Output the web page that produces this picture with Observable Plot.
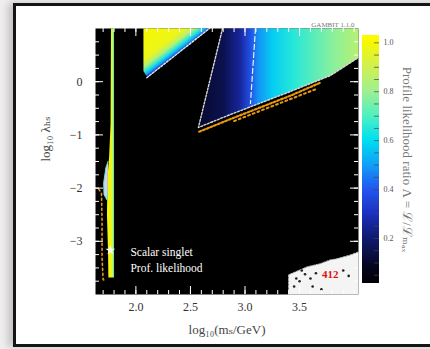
<!DOCTYPE html>
<html><head><meta charset="utf-8">
<script src="https://cdn.jsdelivr.net/npm/d3@7"></script>
<script src="https://cdn.jsdelivr.net/npm/@observablehq/plot@0.6"></script>
<style>
html,body{margin:0;padding:0;background:#efeded;}
#wrap{position:relative;width:430px;height:349px;overflow:hidden;}
#frame{position:absolute;left:13px;top:3px;width:440px;height:338px;border:3px solid #151515;background:#fff;box-shadow:-5px 0 7px rgba(0,0,0,0.18);}
#main,#cbar{position:absolute;top:0;}
#main{left:0;} #cbar{left:350px;}
</style></head>
<body>
<div id="wrap"><div id="frame"></div><div id="main"></div><div id="cbar"></div></div>
<script>
// ---- axes ----
const xDomain = [1.63, 4.04];
const yDomain = [-4, 1];
const xTicks = [2.0, 2.5, 3.0, 3.5];
const yTicks = [-3, -2, -1, 0];
const xLabel = "log₁₀(mₛ/GeV)";
const yLabel = "log₁₀ λₕₛ";
const cbarDomain = [0.016, 1.03];
const cbarTicks = [0.2, 0.4, 0.6, 0.8, 1.0];
const cbarLabel = "Profile likelihood ratio Λ = ℒ/ℒₘₐₓ";
const stamp = "GAMBIT 1.1.0";
const legendLines = ["Scalar singlet", "Prof. likelihood"];
const legendX = [1.95, 1.95];
const legendY = [-3.21, -3.51];
// ---- colormap (likelihood -> colour) ----
const cmapStops = [0, 0.08, 0.2, 0.3, 0.4, 0.5, 0.6, 0.7, 0.8, 0.9, 1.0];
const cmapColors = ["#000000","#05051e","#101a70","#1c30c0","#2258f0","#10a0f8","#00e0f0","#50f0c0","#a0f090","#d0f050","#f8f800"];
// ---- region A: upper-left wedge ----
const regionAx = [2.069, 2.069, 2.095, 2.120, 2.674];
const regionAy = [1.0, 0.20, 0.11, 0.10, 1.0];
const gradAfrom = [2.386, 0.535], gradAto = [2.165, 1.13];
const gradAoff = [0, 0.06, 0.14, 0.25, 0.4, 1];
const gradAval = [0.3, 0.5, 0.65, 0.85, 0.97, 1.0];
const contourAx = [2.100, 2.674];
const contourAy = [0.075, 1.0];
// ---- region B: large wedge ----
const regionBx = [2.794, 2.573, 2.867, 3.417, 3.784, 4.04, 4.04];
const regionBy = [1.0, -0.861, -0.617, -0.184, 0.117, 0.455, 1.0];
const gradBx = [2.57, 2.8, 2.95, 3.05, 3.12, 3.25, 3.45, 3.8, 4.04];
const gradBval = [0.1, 0.15, 0.25, 0.38, 0.48, 0.57, 0.65, 0.77, 0.85];
const dashBx = [3.096, 3.05];
const dashBy = [1.0, -0.41];
const orange1x = [2.58, 2.87, 3.42, 3.70];
const orange1y = [-0.94, -0.70, -0.26, -0.01];
const orange2x = [2.90, 3.20, 3.65];
const orange2y = [-0.74, -0.50, -0.14];
// ---- region C: narrow strip at low mass ----
const regionCx = [1.772, 1.800, 1.800, 1.748, 1.745, 1.735, 1.740, 1.755, 1.768, 1.772];
const regionCy = [1.0, 1.0, -3.68, -3.68, -3.2, -2.5, -1.8, -1.4, -0.8, 1.0];
const gradCx = [1.74, 1.785, 1.792, 1.80];
const gradCval = [1.0, 0.95, 0.8, 0.6];
const paleCx = [1.745, 1.725, 1.705, 1.708, 1.735, 1.742];
const paleCy = [-1.5, -1.62, -1.9, -2.12, -2.22, -2.0];
const orange3x = [1.66, 1.685, 1.69, 1.69, 1.70, 1.72];
const orange3y = [-2.02, -2.1, -2.6, -3.3, -3.72, -3.74];
const bestX = [1.766], bestY = [-3.17];
// ---- region D: bottom-right patch ----
const regionDx = [3.40, 3.40, 3.57, 3.69, 3.78, 3.84, 3.96, 4.04, 4.04];
const regionDy = [-4.0, -3.63, -3.48, -3.42, -3.35, -3.33, -3.26, -3.2, -4.0];
const spotsX = [3.45, 3.50, 3.55, 3.60, 3.65, 3.62, 3.70, 3.90, 3.95, 3.52, 3.47];
const spotsY = [-3.85, -3.75, -3.62, -3.70, -3.60, -3.85, -3.9, -3.55, -3.65, -3.55, -3.70];
const markLabel = "412";
const markX = [3.78], markY = [-3.62];

const serif = "'Liberation Serif','DejaVu Serif',serif";
const pts = (xs, ys) => xs.map((x, i) => [x, ys[i]]);
const PW = 263, PH = 266;

// ---- colour bar ----
const cbarCells = d3.range(cbarDomain[0], cbarDomain[1], 0.004).map(v => ({v, y1: v, y2: Math.min(v + 0.0045, cbarDomain[1])}));
const cbarMinor = d3.range(0.05, 1.03, 0.05);
const cbar = Plot.plot({
  width: 80, height: 349,
  marginLeft: 12, marginRight: 51, marginTop: 35, marginBottom: 66,
  x: {domain: [0, 1], axis: null},
  y: {domain: cbarDomain, axis: null},
  color: {type: "linear", domain: cmapStops, range: cmapColors},
  style: {background: "transparent", fontFamily: serif},
  marks: [
    Plot.rect(cbarCells, {x1: 0, x2: 1, y1: "y1", y2: "y2", fill: "v", shapeRendering: "crispEdges"}),
    Plot.tickY(cbarMinor, {y: d => d, stroke: "#444", strokeOpacity: 0.7, insetLeft: 12}),
    Plot.axisY({ticks: cbarTicks, anchor: "right", tickSize: 0, tickPadding: 4, fontSize: 8, fill: "#555", tickFormat: d => d.toFixed(1), label: null}),
    Plot.text([cbarLabel], {frameAnchor: "right", dx: 28, rotate: 90, textAnchor: "middle", fontSize: 13, fill: "#777", text: d => d})
  ]
});
document.getElementById("cbar").appendChild(cbar);
const sc = cbar.scale("color");

// ---- main panel ----
const xMinor = d3.range(1.7, 4.04, 0.1);
const yMinor = d3.range(-3.75, 1.0, 0.25);
const main = Plot.plot({
  width: 430, height: 349,
  marginLeft: 95, marginRight: 72, marginTop: 28, marginBottom: 55,
  x: {domain: xDomain},
  y: {domain: yDomain},
  style: {background: "transparent", fontFamily: serif},
  marks: [
    Plot.frame({fill: "black", stroke: null}),
    Plot.line(pts(regionAx, regionAy), {fill: "url(#gradA)", stroke: "none"}),
    Plot.line(pts(regionBx, regionBy), {fill: "url(#gradB)", stroke: "none"}),
    Plot.line(pts(regionCx, regionCy), {fill: "url(#gradC)", stroke: "none"}),
    Plot.line(pts(paleCx, paleCy), {fill: "#d4d4e4", stroke: "#70e0d8", strokeWidth: 1}),
    Plot.line(pts(regionDx, regionDy), {fill: "#f4f4f4", stroke: "#bbb", strokeWidth: 1, strokeDasharray: "2,1.5"}),
    Plot.dot(pts(spotsX, spotsY), {r: 1.3, fill: "#222", stroke: null}),
    Plot.text([markLabel], {x: markX, y: markY, fill: "#e01010", fontSize: 11, fontWeight: "bold"}),
    Plot.line(pts(contourAx, contourAy), {stroke: "#e8e8e8", strokeWidth: 1.4, strokeDasharray: "2,1.6"}),
    Plot.line(pts(regionBx.slice(0, 6), regionBy.slice(0, 6)), {stroke: "#d8d8d8", strokeWidth: 1.4, strokeDasharray: "2,1.6"}),
    Plot.line(pts(dashBx, dashBy), {stroke: "#f0f0f0", strokeWidth: 1.2, strokeDasharray: "5,3"}),
    Plot.line(pts(orange1x, orange1y), {stroke: "#e8980e", strokeWidth: 2.2, strokeDasharray: "2,2"}),
    Plot.line(pts(orange2x, orange2y), {stroke: "#e8980e", strokeWidth: 2, strokeDasharray: "2,3"}),
    Plot.line(pts(orange3x, orange3y), {stroke: "#e8980e", strokeWidth: 1.6, strokeDasharray: "2,3"}),
    Plot.dot(pts(bestX, bestY), {symbol: "star", r: 3, fill: "white", stroke: null}),
    // inward ticks
    Plot.tickX(xMinor, {x: d => d, stroke: "white", insetTop: PH - 4}),
    Plot.tickX(xTicks, {x: d => d, stroke: "white", insetTop: PH - 8}),
    Plot.tickX(xMinor, {x: d => d, stroke: "white", insetBottom: PH - 4}),
    Plot.tickX(xTicks, {x: d => d, stroke: "white", insetBottom: PH - 8}),
    Plot.tickY(yMinor, {y: d => d, stroke: "white", insetRight: PW - 4}),
    Plot.tickY(yTicks, {y: d => d, stroke: "white", insetRight: PW - 8}),
    Plot.tickY(yMinor, {y: d => d, stroke: "white", insetLeft: PW - 4}),
    Plot.tickY(yTicks, {y: d => d, stroke: "white", insetLeft: PW - 8}),
    Plot.axisX({ticks: xTicks, tickSize: 0, tickPadding: 8, fontSize: 12, fill: "#333", tickFormat: d => d.toFixed(1), label: null}),
    Plot.axisY({ticks: yTicks, tickSize: 0, tickPadding: 13, fontSize: 12, fill: "#333", tickFormat: d => d < 0 ? "−" + Math.abs(d) : String(d), label: null}),
    Plot.text([xLabel], {frameAnchor: "bottom", dy: 39, fontSize: 13, fill: "#444", text: d => d}),
    Plot.text([yLabel], {frameAnchor: "left", dx: -50, rotate: -90, fontSize: 13, fill: "#444", text: d => d}),
    Plot.text([stamp], {frameAnchor: "top-right", dx: -4, dy: -6, fontSize: 7, fill: "#777", text: d => d}),
    Plot.text(legendLines, {x: legendX, y: legendY, textAnchor: "start", fill: "white", fontSize: 11.5, text: d => d})
  ]
});
document.getElementById("main").appendChild(main);

// ---- gradients built from the scales ----
const sx = main.scale("x"), sy = main.scale("y");
const defs = d3.select(main).insert("defs", ":first-child");
function addGrad(id, from, to, offs, vals) {
  const g = defs.append("linearGradient").attr("id", id).attr("gradientUnits", "userSpaceOnUse")
    .attr("x1", sx.apply(from[0])).attr("y1", sy.apply(from[1]))
    .attr("x2", sx.apply(to[0])).attr("y2", sy.apply(to[1]));
  offs.forEach((o, i) => g.append("stop").attr("offset", o).attr("stop-color", sc.apply(vals[i])));
}
addGrad("gradA", gradAfrom, gradAto, gradAoff, gradAval);
const bx0 = gradBx[0], bx1 = gradBx[gradBx.length - 1];
addGrad("gradB", [bx0, 0], [bx1, 0], gradBx.map(x => (x - bx0) / (bx1 - bx0)), gradBval);
const cx0 = gradCx[0], cx1 = gradCx[gradCx.length - 1];
addGrad("gradC", [cx0, 0], [cx1, 0], gradCx.map(x => (x - cx0) / (cx1 - cx0)), gradCval);
</script>
</body></html>
